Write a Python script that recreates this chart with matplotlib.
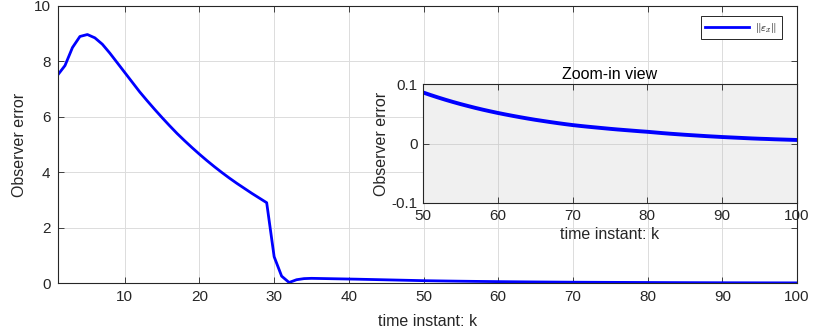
import numpy as np
import matplotlib
matplotlib.use("Agg")
import matplotlib.pyplot as plt

plt.rcParams['font.family'] = ['Liberation Sans', 'DejaVu Sans']
plt.rcParams['mathtext.fontset'] = 'cm'

k = list(range(1, 101))
err = [
    7.50, 7.85, 8.50, 8.90, 8.97, 8.85, 8.62, 8.30, 7.95, 7.60,
    7.25, 6.90, 6.58, 6.27, 5.97, 5.68, 5.40, 5.14, 4.89, 4.65,
    4.42, 4.20, 3.99, 3.79, 3.60, 3.42, 3.24, 3.07, 2.90, 0.95,
    0.25, 0.02, 0.12, 0.16, 0.17, 0.165, 0.160, 0.155, 0.150, 0.145,
    0.140, 0.134, 0.128, 0.122, 0.116, 0.110, 0.104, 0.098, 0.092, 0.086,
    0.0817, 0.0776, 0.0737, 0.0700, 0.0665, 0.0632, 0.0600, 0.0570, 0.0542, 0.0515,
    0.0490, 0.0466, 0.0443, 0.0421, 0.0400, 0.0381, 0.0362, 0.0344, 0.0327, 0.0311,
    0.0297, 0.0284, 0.0272, 0.0260, 0.0248, 0.0237, 0.0227, 0.0217, 0.0207, 0.0198,
    0.0187, 0.0176, 0.0166, 0.0157, 0.0148, 0.0140, 0.0132, 0.0124, 0.0117, 0.0110,
    0.0104, 0.0098, 0.0092, 0.0086, 0.0081, 0.0077, 0.0072, 0.0068, 0.0064, 0.0060,
]
main_xticks = [10, 20, 30, 40, 50, 60, 70, 80, 90, 100]
main_yticks = [0, 2, 4, 6, 8, 10]
zoom_xticks = [50, 60, 70, 80, 90, 100]
zoom_yticks = [-0.1, 0, 0.1]

axcol = '#262626'


def style(ax):
    ax.tick_params(direction='in', top=True, right=True, colors=axcol,
                   labelsize=11, length=4, width=0.6, pad=5)
    for s in ax.spines.values():
        s.set_color(axcol)
        s.set_linewidth(0.8)
    ax.grid(True, color='#dcdcdc', linewidth=0.7)
    ax.set_axisbelow(True)


fig = plt.figure(figsize=(8.3, 3.33), dpi=100)
ax = fig.add_axes([0.0693, 0.150, 0.891, 0.832])
ax.plot(k, err, color='#0000ff', linewidth=2, label=r'$\|\varepsilon_x\|$')
ax.set_xlim(1, 100)
ax.set_ylim(0, 10)
ax.set_xticks(main_xticks)
ax.set_yticks(main_yticks)
style(ax)
ax.set_xlabel('time instant: k', fontsize=11.5, color=axcol, labelpad=7)
ax.set_ylabel('Observer error', fontsize=11.5, color=axcol, labelpad=5)
leg = ax.legend(loc='upper right', bbox_to_anchor=(0.9795, 0.963), fontsize=8,
                fancybox=False, handlelength=3.9, borderpad=0.4,
                handletextpad=0.6, framealpha=1, borderaxespad=0)
leg.get_frame().set_edgecolor(axcol)
leg.get_frame().set_linewidth(0.7)

ins = fig.add_axes([0.5096, 0.3904, 0.4506, 0.357])
ins.set_facecolor('#f0f0f0')
ins.plot(k, err, color='#0000ff', linewidth=2.8)
ins.set_xlim(50, 100)
ins.set_ylim(-0.1, 0.1)
ins.set_xticks(zoom_xticks)
ins.set_yticks(zoom_yticks)
ins.set_yticklabels(['-0.1', '0', '0.1'])
style(ins)
ins.tick_params(pad=4)
ins.grid(True, color='#d0d0d0', linewidth=0.6)
ins.set_title('Zoom-in view', fontsize=11.5, color='black', pad=4)
ins.set_xlabel('time instant: k', fontsize=11.5, color=axcol, labelpad=3)
ins.set_ylabel('Observer error', fontsize=11.5, color=axcol, labelpad=2)

fig.savefig('out.png', dpi=100)
